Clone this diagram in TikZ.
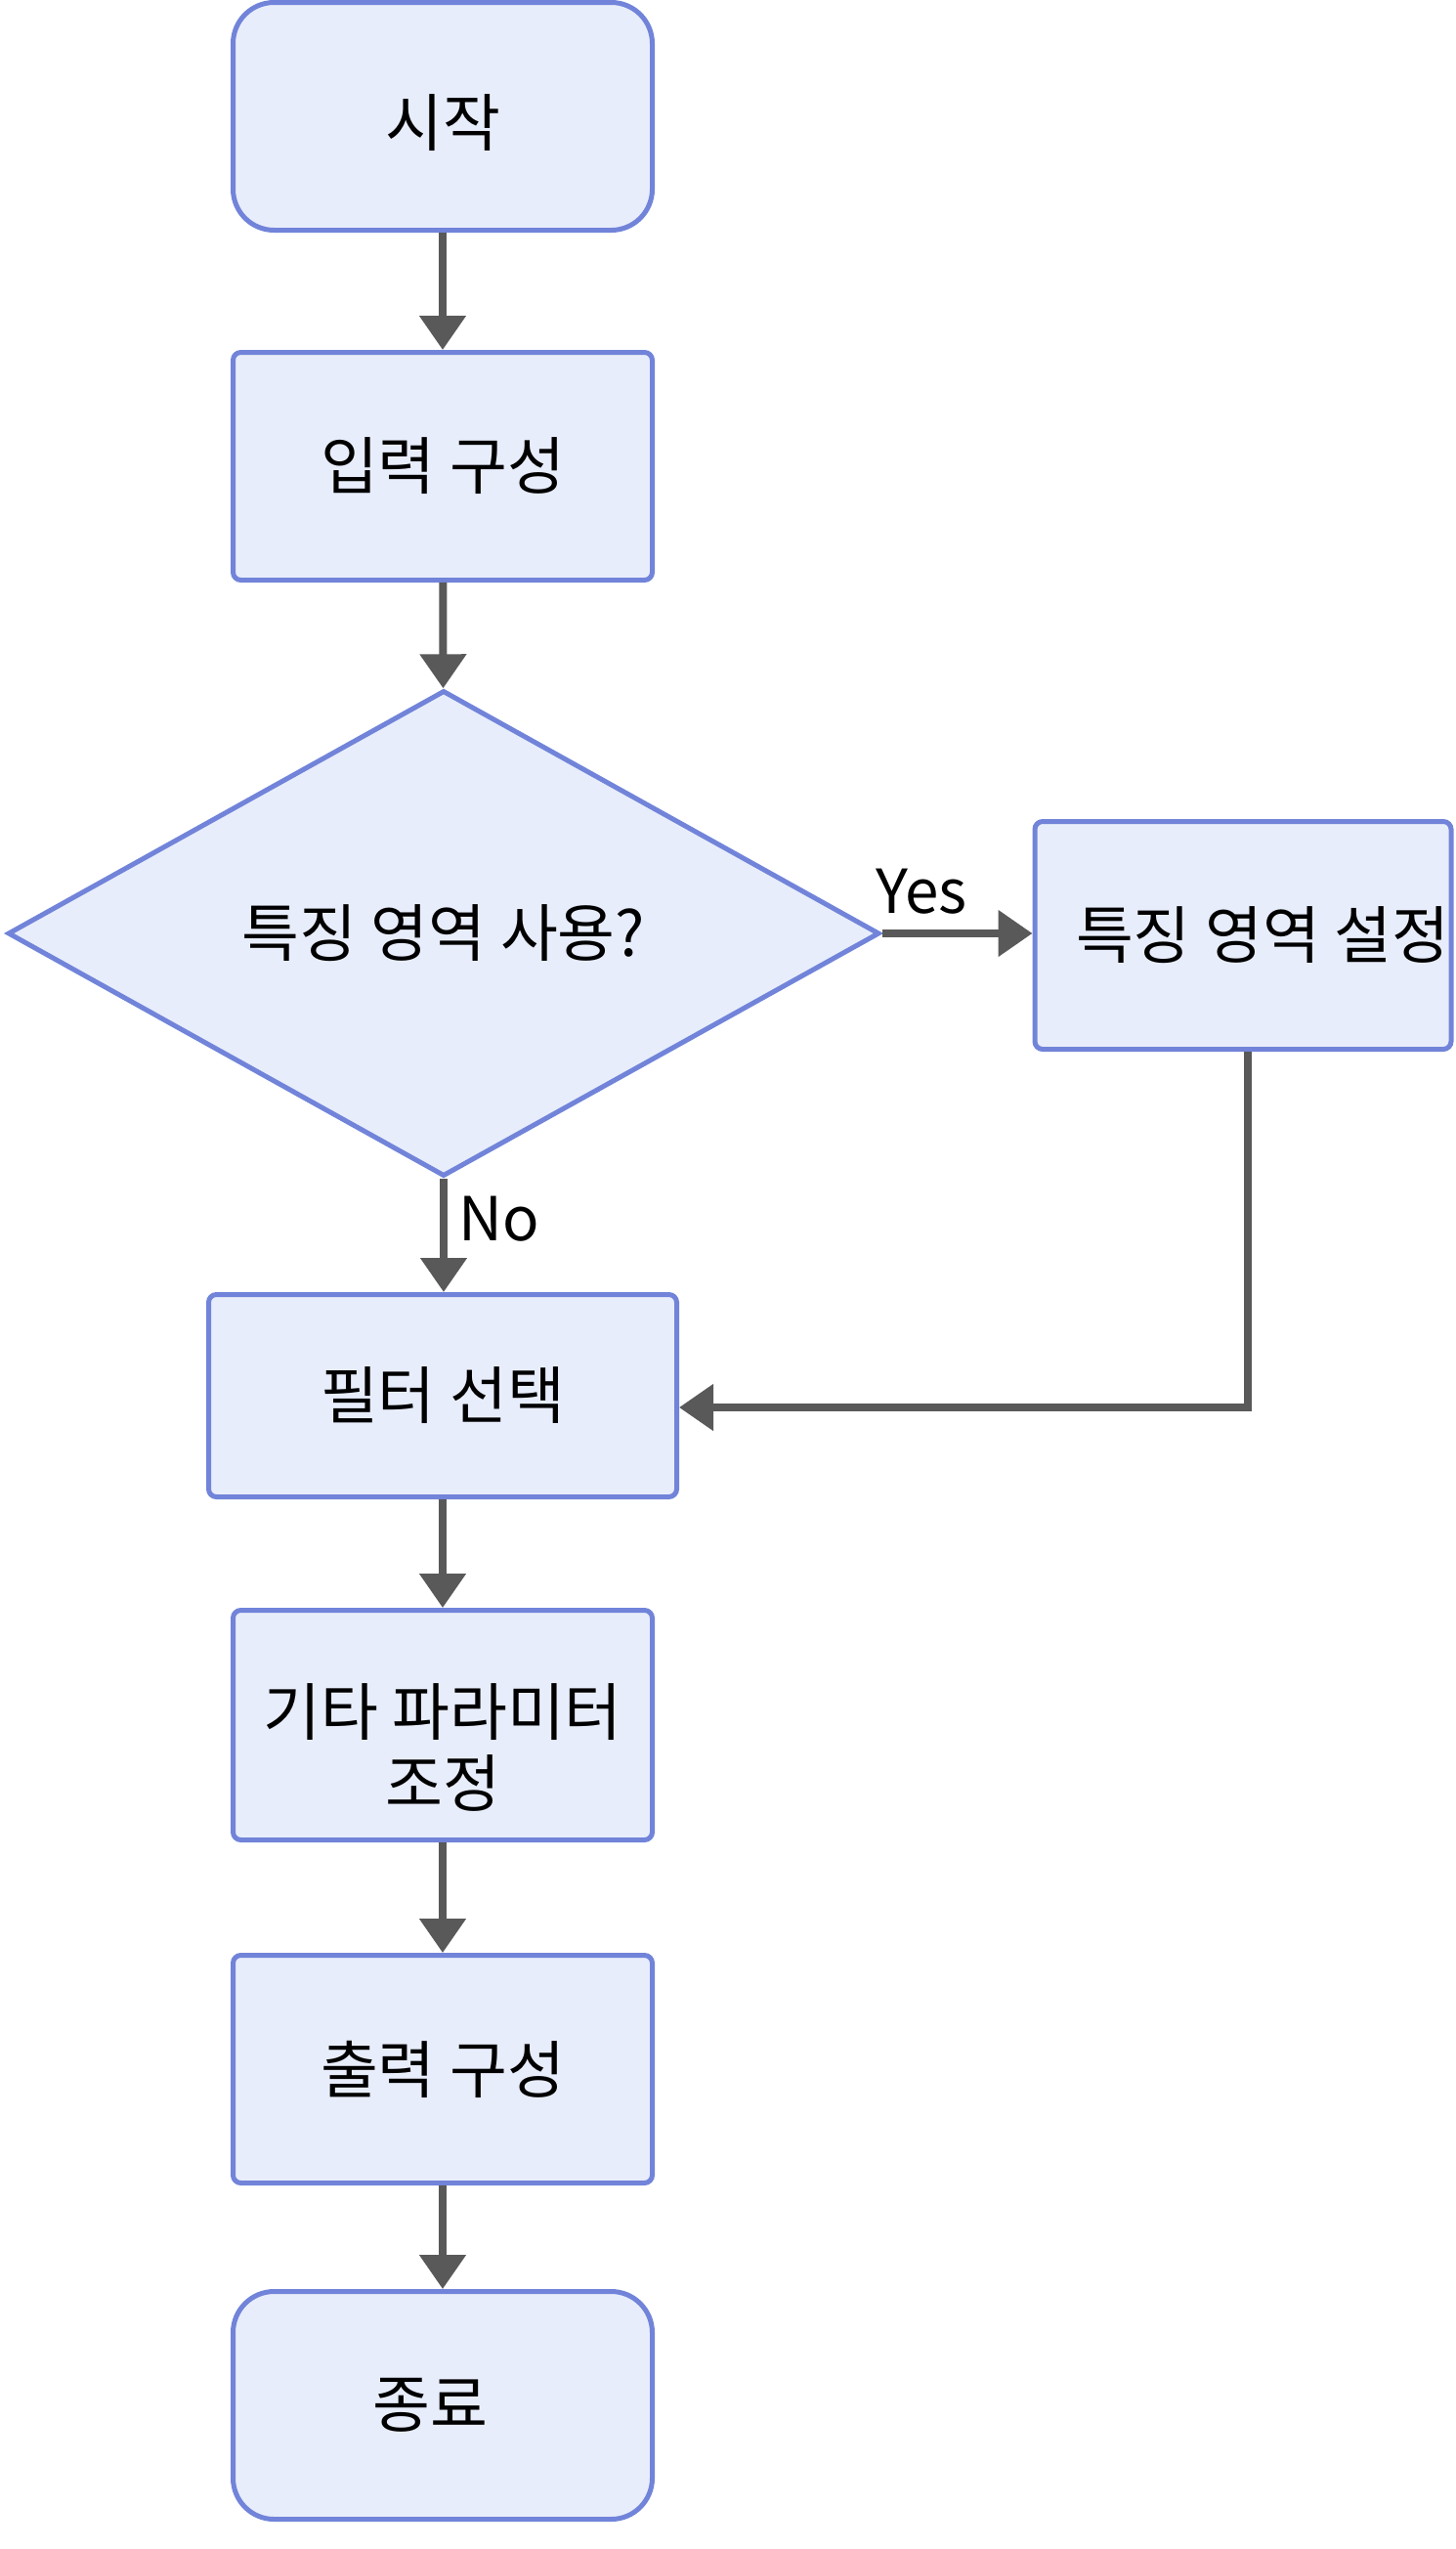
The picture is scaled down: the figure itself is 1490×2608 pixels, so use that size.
\documentclass[tikz,border=0pt]{standalone}
\usepackage{fontspec}
\newfontfamily\kr{Noto Sans CJK KR}
\usetikzlibrary{arrows.meta,shapes.geometric}
\definecolor{boxfill}{HTML}{E8EDFB}
\definecolor{boxline}{HTML}{7184D9}
\definecolor{edgecol}{HTML}{595959}
\begin{document}
\begin{tikzpicture}[x=1pt,y=-1pt,
  every node/.style={font=\kr\fontsize{64}{73}\selectfont},
  procbox/.style={draw=boxline,fill=boxfill,line width=5pt,rounded corners=8pt,
    minimum width=429pt,minimum height=233pt,inner sep=0pt,align=center},
  termbox/.style={procbox,rounded corners=42pt},
  decbox/.style={draw=boxline,fill=boxfill,line width=5pt,diamond,
    minimum width=892pt,minimum height=497pt,inner sep=0pt},
  flow/.style={draw=edgecol,line width=8pt,-{Triangle[length=35pt,width=46pt]}},
  edgelabel/.style={inner sep=0pt,font=\kr\fontsize{62}{70}\selectfont}]
\useasboundingbox (0,0) rectangle (1490,2608);
\node[termbox] (start) at (453,119) {};
\node at (453,126) {시작};
\node[procbox] (inp) at (453,477) {입력 구성};
\node[decbox] (dia) at (454,955) {};
\node at (454,955) {특징 영역 사용?};
\node[procbox,minimum width=426pt] (set) at (1272,957) {};
\node at (1292,957) {특징 영역 설정};
\node[procbox,minimum width=479pt,minimum height=207pt] (filt) at (453,1428) {필터 선택};
\node[procbox,minimum height=235pt] (param) at (453,1765) {};
\node[align=center] at (453,1788) {기타 파라미터\\조정};
\node[procbox] (outp) at (453,2117) {출력 구성};
\node[termbox] (stop) at (453,2461) {};
\node at (440,2461) {종료};
\draw[flow] (start) -- (inp);
\draw[flow] (inp) -- (dia);
\draw[flow] (dia.east) -- (dia.east -| set.west);
\node[edgelabel] (yes) at (943,912) {Yes};
\draw[flow] (dia.south) -- (dia.south |- filt.north);
\node[edgelabel] (no) at (511,1247) {No};
\coordinate (fbs) at ([xshift=5pt]set.south);
\coordinate (fb) at ([yshift=-12pt]filt.east);
\draw[flow] (fbs) |- (fb);
\draw[flow] (filt) -- (param);
\draw[flow] (param) -- (outp);
\draw[flow] (outp) -- (stop);
\end{tikzpicture}
\end{document}
